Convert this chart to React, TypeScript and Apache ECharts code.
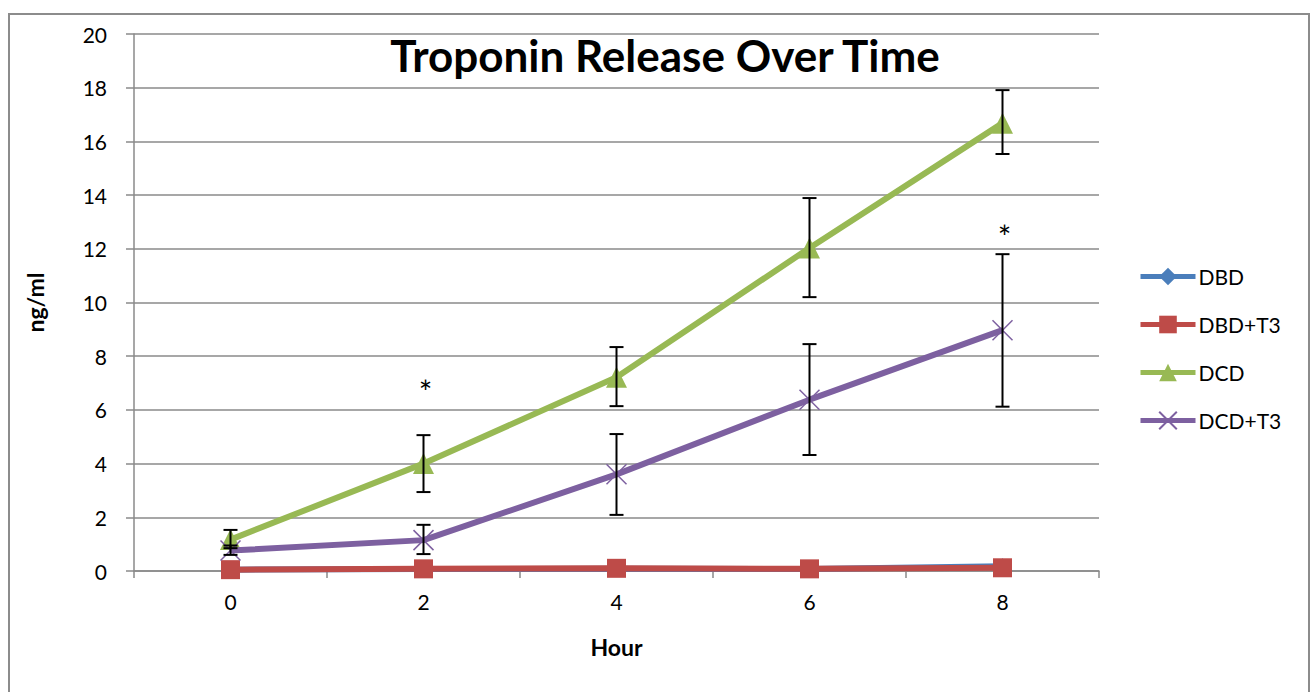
import React, { useEffect, useRef } from "react";
import * as echarts from "echarts";

const hours = ["0", "2", "4", "6", "8"];
const dbd = [0.05, 0.07, 0.08, 0.07, 0.18];
const dbdT3 = [0.05, 0.08, 0.1, 0.08, 0.12];
const dcd = [1.17, 4.0, 7.22, 12.03, 16.68];
const dcdT3 = [0.76, 1.15, 3.6, 6.38, 8.97];
const dcdLow = [0.85, 2.94, 6.14, 10.2, 15.53];
const dcdHigh = [1.53, 5.06, 8.34, 13.89, 17.91];
const dcdT3Low = [0.6, 0.63, 2.09, 4.32, 6.12];
const dcdT3High = [0.95, 1.72, 5.1, 8.45, 11.8];
const stars: [number, number][] = [
  [1, 6.9],
  [4, 12.7],
];

const FONT = "Lato, 'Open Sans', sans-serif";
const BLUE = "#4A7EBB";
const RED = "#BE4B48";
const GREEN = "#98B954";
const PURPLE = "#7D60A0";
const GRID = "#8A8A8A";
const LW = 6;

export default function App() {
  const ref = useRef<HTMLDivElement>(null);
  useEffect(() => {
    const chart = echarts.init(ref.current!, null, { renderer: "svg" });
    const errData = [
      ...hours.map((_, i) => [i, dcdLow[i], dcdHigh[i]]),
      ...hours.map((_, i) => [i, dcdT3Low[i], dcdT3High[i]]),
    ];
    chart.setOption({
      animation: false,
      backgroundColor: "#ffffff",
      title: {
        text: "Troponin Release Over Time",
        left: 660,
        top: 28,
        textAlign: "center",
        textStyle: { fontFamily: FONT, fontSize: 44, fontWeight: "bold", color: "#000" },
      },
      legend: {
        orient: "vertical",
        left: 1133,
        top: 261,
        itemGap: 27,
        itemWidth: 55,
        itemHeight: 22,
        lineStyle: { width: 5 },
        textStyle: { fontFamily: FONT, fontSize: 21, color: "#000", padding: [0, 0, 0, -2] },
        data: ["DBD", "DBD+T3", "DCD", "DCD+T3"],
      },
      grid: { left: 134, right: 215, top: 34, bottom: 121 },
      xAxis: {
        type: "category",
        data: hours,
        boundaryGap: true,
        name: "Hour",
        nameLocation: "middle",
        nameGap: 64,
        nameTextStyle: { fontFamily: FONT, fontSize: 23, fontWeight: "bold", color: "#000" },
        axisLine: { lineStyle: { color: GRID, width: 1.5 } },
        axisTick: { show: true, length: 7, lineStyle: { color: GRID, width: 1.5 } },
        axisLabel: { fontFamily: FONT, fontSize: 21, color: "#000", margin: 20 },
      },
      yAxis: {
        type: "value",
        min: 0,
        max: 20,
        interval: 2,
        name: "ng/ml",
        nameLocation: "middle",
        nameGap: 88,
        nameTextStyle: { fontFamily: FONT, fontSize: 23, fontWeight: "bold", color: "#000" },
        axisLine: { show: true, lineStyle: { color: GRID, width: 1.5 } },
        axisTick: { show: true, length: 8, lineStyle: { color: GRID, width: 1.5 } },
        axisLabel: { fontFamily: FONT, fontSize: 21, color: "#000", margin: 27 },
        splitLine: { lineStyle: { color: GRID, width: 1.5 } },
      },
      graphic: [
        {
          type: "rect",
          shape: { x: 9, y: 14, width: 1300, height: 700 },
          style: { fill: "none", stroke: "#8C8C8C", lineWidth: 2 },
          silent: true,
          z: -1,
        },
      ],
      series: [
        {
          name: "DBD",
          type: "line",
          data: dbd,
          symbol: "diamond",
          symbolSize: 16,
          color: BLUE,
          lineStyle: { color: BLUE, width: LW },
          itemStyle: { color: BLUE },
          z: 2,
        },
        {
          name: "DBD+T3",
          type: "line",
          data: dbdT3,
          symbol: "rect",
          symbolSize: 19,
          color: RED,
          lineStyle: { color: RED, width: LW },
          itemStyle: { color: RED },
          z: 3,
        },
        {
          name: "DCD",
          type: "line",
          data: dcd,
          symbol: "triangle",
          symbolSize: 21,
          color: GREEN,
          lineStyle: { color: GREEN, width: LW },
          itemStyle: { color: GREEN },
          z: 4,
        },
        {
          name: "DCD+T3",
          type: "line",
          data: dcdT3,
          symbol: "path://M0,0L10,10M10,0L0,10",
          symbolSize: 20,
          color: PURPLE,
          lineStyle: { color: PURPLE, width: LW },
          itemStyle: { color: PURPLE, borderColor: PURPLE, borderWidth: 1.5 },
          z: 5,
        },
        {
          type: "custom",
          name: "err",
          data: errData,
          z: 6,
          renderItem: (params: any, api: any) => {
            const x = api.value(0);
            const lo = api.coord([x, api.value(1)]);
            const hi = api.coord([x, api.value(2)]);
            const w = 7;
            const style = { stroke: "#000", lineWidth: 2 };
            return {
              type: "group",
              children: [
                { type: "line", shape: { x1: lo[0], y1: lo[1], x2: hi[0], y2: hi[1] }, style },
                { type: "line", shape: { x1: lo[0] - w, y1: lo[1], x2: lo[0] + w, y2: lo[1] }, style },
                { type: "line", shape: { x1: hi[0] - w, y1: hi[1], x2: hi[0] + w, y2: hi[1] }, style },
              ],
            };
          },
        },
        {
          type: "custom",
          name: "stars",
          data: stars,
          z: 6,
          renderItem: (params: any, api: any) => {
            const p = api.coord([api.value(0), api.value(1)]);
            return {
              type: "text",
              x: p[0] + 2,
              y: p[1] + 6,
              style: {
                text: "*",
                fontFamily: FONT,
                fontSize: 32,
                fill: "#000",
                align: "center",
                verticalAlign: "middle",
              },
            };
          },
        },
      ],
    });
    return () => chart.dispose();
  }, []);
  return (
    <div
      ref={ref}
      style={{ position: "fixed", left: 0, top: 0, width: 1314, height: 692, background: "#fff" }}
    />
  );
}
